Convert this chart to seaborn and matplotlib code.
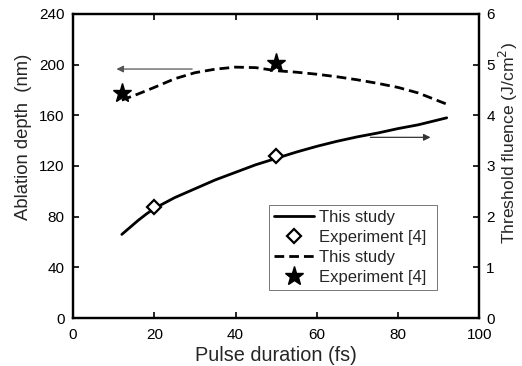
import matplotlib
matplotlib.use("Agg")
import matplotlib.pyplot as plt
import seaborn as sns
import pandas as pd

sns.set_style("ticks")
plt.rcParams['font.family'] = ['Liberation Sans', 'DejaVu Sans']

# Ablation depth (left axis, nm)
depth_x = [12, 14, 16, 18, 20, 25, 30, 35, 40, 45, 50, 55, 60, 65, 70, 75, 80, 85, 92]
depth_y = [66, 71.5, 77, 82, 86.5, 95, 102, 109, 115, 121, 126, 131, 135.5, 139.5, 143, 146, 149.5, 152.5, 158]
exp_depth_x = [20, 50]
exp_depth_y = [88, 128]

# Threshold fluence (right axis, J/cm^2)
flu_x = [12, 16, 20, 25, 30, 35, 40, 45, 50, 55, 60, 65, 70, 75, 80, 85, 92]
flu_y = [4.30, 4.42, 4.55, 4.72, 4.84, 4.91, 4.95, 4.94, 4.88, 4.85, 4.81, 4.76, 4.70, 4.63, 4.55, 4.44, 4.22]
exp_flu_x = [12, 50]
exp_flu_y = [4.44, 5.03]

fig = plt.figure(figsize=(5.22, 3.66), dpi=100)
ax = fig.add_axes([0.140, 0.131, 0.778, 0.831])
ax2 = ax.twinx()

d1 = pd.DataFrame({"x": depth_x, "y": depth_y})
d3 = pd.DataFrame({"x": flu_x, "y": flu_y})

sns.lineplot(data=d1, x="x", y="y", ax=ax, color="black", lw=2.0, label="This study", legend=False)
ax.plot(exp_depth_x, exp_depth_y, ls="none", marker="D", ms=7, mfc="white", mec="black", mew=1.6, label="Experiment [4]")
sns.lineplot(data=d3, x="x", y="y", ax=ax2, color="black", lw=2.0, ls=(0, (3.5, 1.8)), label="This study", legend=False)
ax2.plot(exp_flu_x, exp_flu_y, ls="none", marker="*", ms=14, mfc="black", mec="black", label="Experiment [4]")

ax.set_xlim(0, 100)
ax.set_ylim(0, 240)
ax2.set_ylim(0, 6)
ax.set_xticks(range(0, 101, 20))
ax.set_yticks(range(0, 241, 40))
ax2.set_yticks(range(0, 7))

ax.set_xlabel("Pulse duration (fs)", fontsize=14.3, labelpad=3)
ax.set_ylabel("Ablation depth  (nm)", fontsize=13.3)
ax2.set_ylabel("Threshold fluence (J/cm$^2$)", fontsize=12.6)
ax.yaxis.set_label_coords(-0.101, 0.595)
ax2.yaxis.set_label_coords(1.043, 0.576)

for a in (ax, ax2):
    a.tick_params(direction="in", length=4, width=1.2, labelsize=11, colors="black")
    for s in a.spines.values():
        s.set_visible(True)
        s.set_linewidth(1.6)
        s.set_color("black")
ax.tick_params(axis="x", top=True, pad=7)
ax.tick_params(axis="y", pad=6)
ax2.tick_params(axis="y", pad=5)

# arrows
ax.annotate("", xy=(10, 196.5), xytext=(30, 196.5),
            arrowprops=dict(arrowstyle="-|>", color="#555555", lw=0.9, mutation_scale=10))
ax.annotate("", xy=(88.7, 142.6), xytext=(72.5, 142.6),
            arrowprops=dict(arrowstyle="-|>", color="#333333", lw=0.9, mutation_scale=10))

h1, l1 = ax.get_legend_handles_labels()
h2, l2 = ax2.get_legend_handles_labels()
leg = ax2.legend(h1 + h2, l1 + l2, loc="lower left", bbox_to_anchor=(0.515, 0.208, 0.322, 0.256),
                 bbox_transform=fig.transFigure, mode="expand", fancybox=False, framealpha=1,
                 edgecolor="#777777", fontsize=12, handlelength=2.4, borderaxespad=0,
                 labelspacing=0.3, borderpad=0.3, handletextpad=0.3)
leg.get_frame().set_linewidth(0.7)

fig.savefig("out.png", dpi=100)
